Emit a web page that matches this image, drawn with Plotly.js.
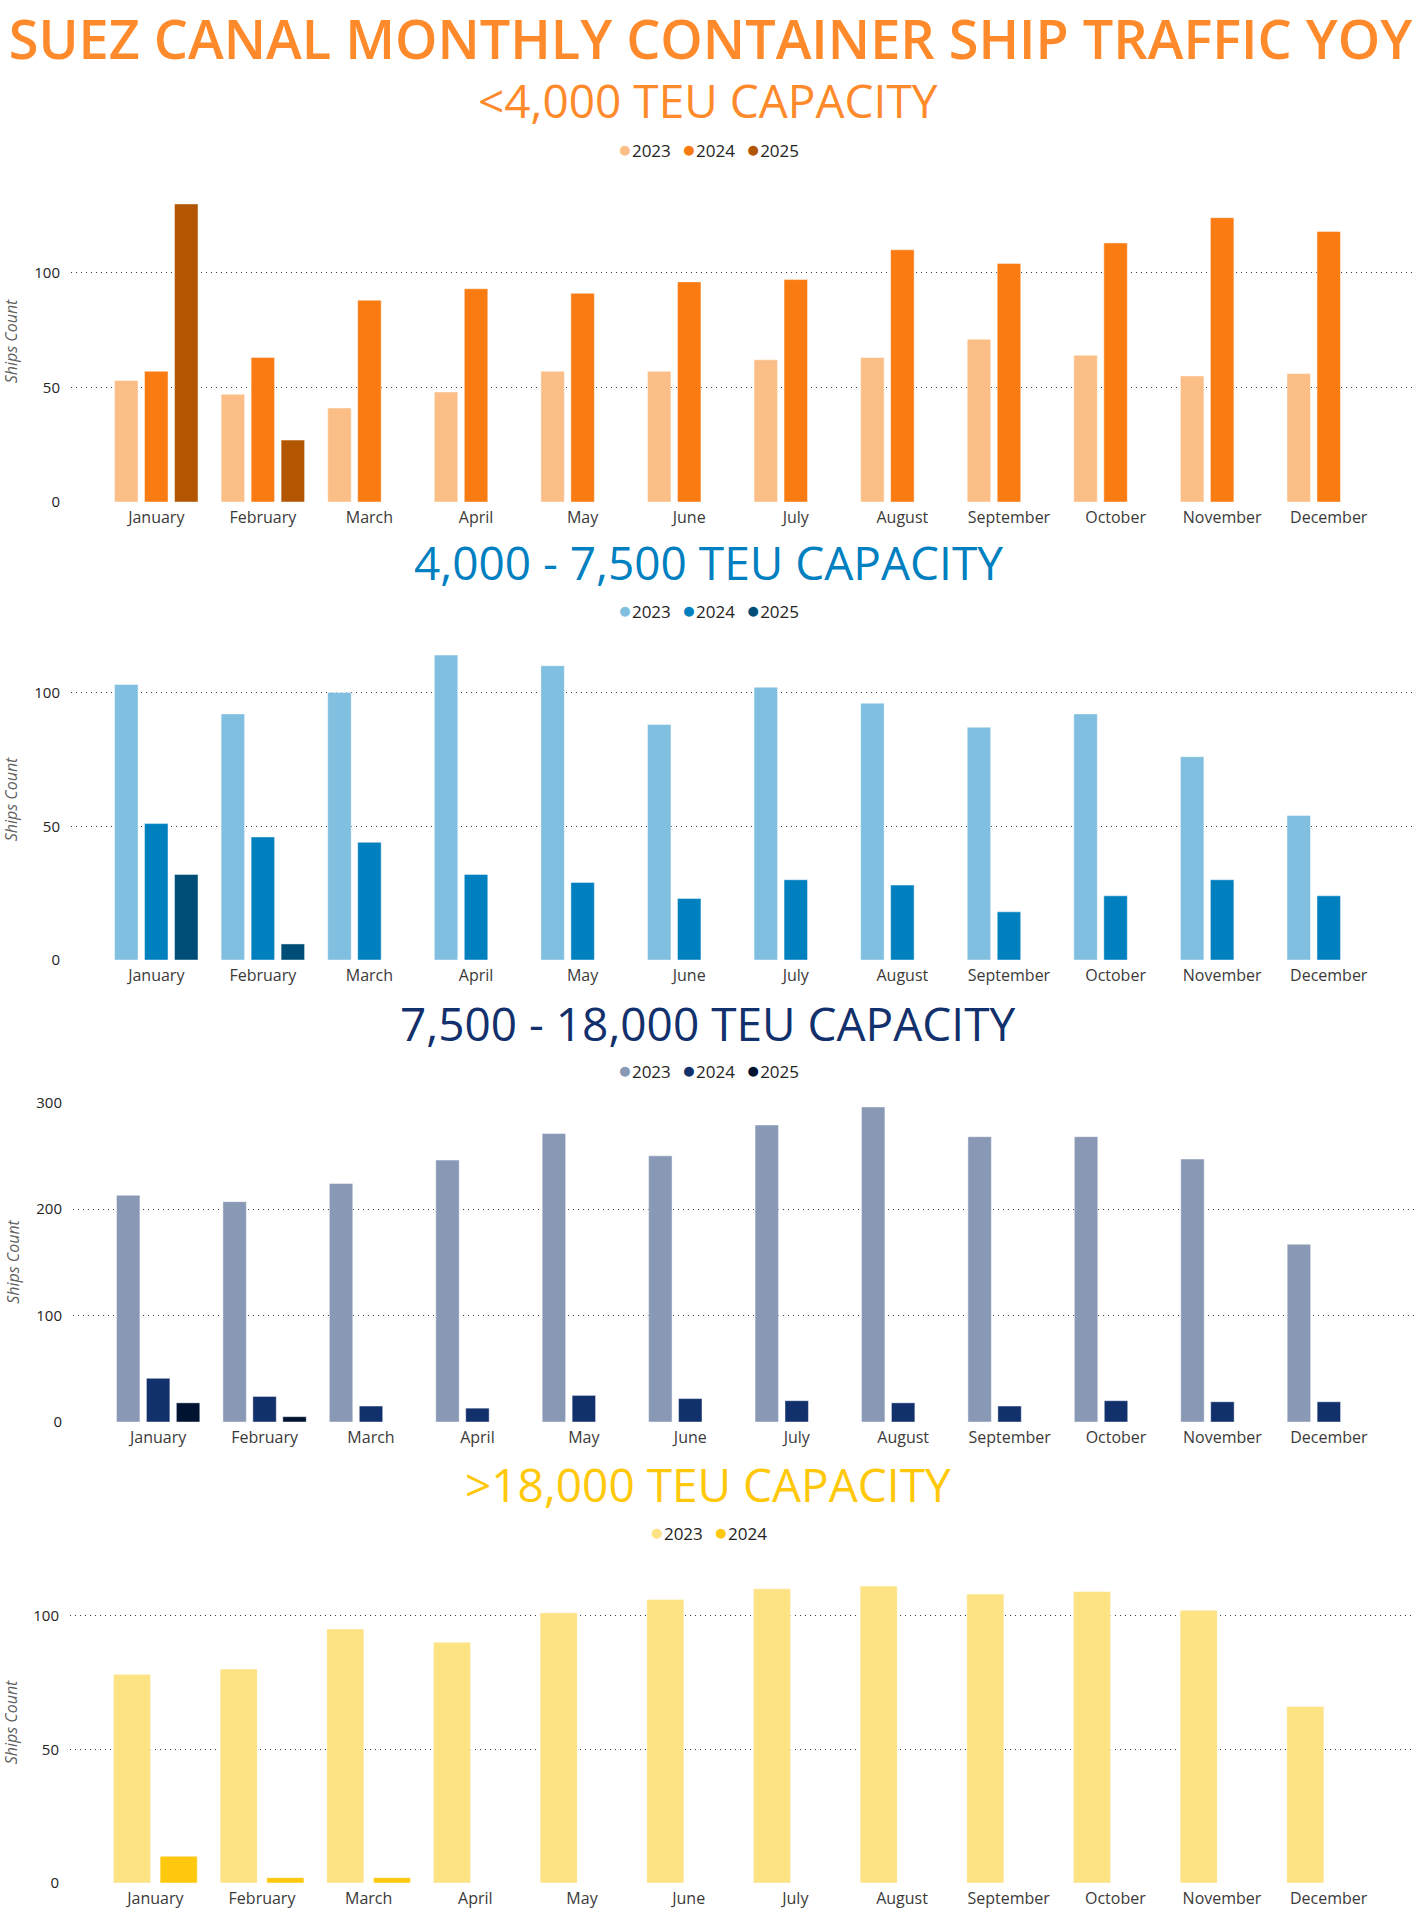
<!DOCTYPE html>
<html>
<head>
<meta charset="utf-8">
<script src="https://cdn.plot.ly/plotly-3.0.1.min.js"></script>
<style>
  html, body { margin: 0; padding: 0; background: #ffffff; }
  .panel { width: 1421px; position: absolute; left: 0; }
</style>
</head>
<body>
<div id="p1" class="panel" style="top:0px;height:540px"></div>
<div id="p2" class="panel" style="top:520px;height:480px"></div>
<div id="p3" class="panel" style="top:980px;height:480px"></div>
<div id="p4" class="panel" style="top:1440px;height:480px"></div>
<script>
// ---------- DATA ----------
const months = ['January','February','March','April','May','June','July','August','September','October','November','December'];

const mainTitle = 'SUEZ CANAL MONTHLY CONTAINER SHIP TRAFFIC YOY';
const yTitle = 'Ships Count';

// <4,000 TEU
const smallTitle = '<4,000 TEU CAPACITY';
const smallYears = ['2023','2024','2025'];
const small2023 = [53, 47, 41, 48, 57, 57, 62, 63, 71, 64, 55, 56];
const small2024 = [57, 63, 88, 93, 91, 96, 97, 110, 104, 113, 124, 118];
const small2025 = [130, 27, null, null, null, null, null, null, null, null, null, null];

// 4,000 - 7,500 TEU
const midTitle = '4,000 - 7,500 TEU CAPACITY';
const midYears = ['2023','2024','2025'];
const mid2023 = [103, 92, 100, 114, 110, 88, 102, 96, 87, 92, 76, 54];
const mid2024 = [51, 46, 44, 32, 29, 23, 30, 28, 18, 24, 30, 24];
const mid2025 = [32, 6, null, null, null, null, null, null, null, null, null, null];

// 7,500 - 18,000 TEU
const largeTitle = '7,500 - 18,000 TEU CAPACITY';
const largeYears = ['2023','2024','2025'];
const large2023 = [213, 207, 224, 246, 271, 250, 279, 296, 268, 268, 247, 167];
const large2024 = [41, 24, 15, 13, 25, 22, 20, 18, 15, 20, 19, 19];
const large2025 = [18, 5, null, null, null, null, null, null, null, null, null, null];

// >18,000 TEU
const ulcvTitle = '>18,000 TEU CAPACITY';
const ulcvYears = ['2023','2024'];
const ulcv2023 = [78, 80, 95, 90, 101, 106, 110, 111, 108, 109, 102, 66];
const ulcv2024 = [10, 2, 2, null, null, null, null, null, null, null, null, null];

// ---------- STYLE ----------
const FONT = '"Open Sans", "Noto Sans", sans-serif';
const CENTER_X = 708;   // page pixel centre of headings / legends
const PLOT_RIGHT = 1414;

function legendText(names, colors) {
  return names.map((n, i) =>
    '<span style="color:' + colors[i] + ';font-size:23px">\u25CF</span>' + n
  ).join('\u2002\u2009');
}

function makePanel(o) {
  const H = o.height;
  const top = o.plotTop, bottom = o.plotBottom;
  const paperY = py => (bottom - py) / (bottom - top);
  const cx = (CENTER_X - o.left) / (PLOT_RIGHT - o.left);
  const traces = o.series.map((vals, i) => ({
    type: 'bar',
    name: o.names[i],
    x: months,
    y: vals,
    marker: { color: o.colors[i], line: { color: 'rgba(255,255,255,0.45)', width: 1 } },
    showlegend: false,
    hoverinfo: 'skip'
  }));
  const annotations = [
    {
      text: o.subtitle, xref: 'paper', yref: 'paper', x: cx, y: paperY(o.subY),
      xanchor: 'center', yanchor: 'middle', showarrow: false,
      font: { family: FONT, size: 46, color: o.subColor, weight: 400 }
    },
    {
      text: legendText(o.names, o.colors), xref: 'paper', yref: 'paper', x: cx, y: paperY(o.legY),
      xanchor: 'center', yanchor: 'middle', showarrow: false,
      font: { family: FONT, size: 17, color: '#252423' }
    }
  ];
  const layout = {
    width: 1421, height: H,
    paper_bgcolor: 'rgba(0,0,0,0)', plot_bgcolor: 'rgba(0,0,0,0)',
    margin: { l: o.left, r: 1421 - PLOT_RIGHT, t: top, b: H - bottom, pad: 0 },
    barmode: 'group',
    bargap: o.bargap,
    bargroupgap: o.bargroupgap,
    showlegend: false,
    xaxis: {
      type: 'category',
      range: [-0.8, 11.8],
      showgrid: false, zeroline: false, showline: false,
      ticks: '', ticklabelstandoff: 4,
      tickfont: { family: FONT, size: 16, color: '#3b3a39' }
    },
    yaxis: {
      range: o.yrange,
      tickvals: o.ytick,
      showgrid: true, griddash: '1px,4px', gridcolor: '#3a3a3a', gridwidth: 1,
      zeroline: false, showline: false, ticks: '', ticklabelstandoff: 10,
      tickfont: { family: FONT, size: 15, color: '#252423' },
      title: { text: yTitle, standoff: 12, font: { family: FONT, size: 16, color: '#5f5f5f', style: 'italic' } }
    },
    annotations: annotations
  };
  if (o.mainTitle) {
    layout.title = {
      text: o.mainTitle, x: 0.5, xanchor: 'center', xref: 'container',
      y: 1 - o.mainY / H, yanchor: 'middle', yref: 'container',
      font: { family: FONT, size: 54, color: '#FF8A2B', weight: 600 }
    };
  }
  Plotly.newPlot(o.id, traces, layout, { staticPlot: true, displayModeBar: false });
}

makePanel({
  id: 'p1', height: 540, plotTop: 180.9, plotBottom: 502.3, left: 71,
  yrange: [0, 140], ytick: [0, 50, 100],
  series: [small2023, small2024, small2025], names: smallYears,
  colors: ['#FBBE87', '#F97B11', '#B35602'],
  subtitle: smallTitle, subColor: '#FF8A2B', subY: 100, legY: 148,
  bargap: 0.156, bargroupgap: 0.217, mainTitle: mainTitle, mainY: 40
});
makePanel({
  id: 'p2', height: 480, plotTop: 119.2, plotBottom: 440, left: 71,
  yrange: [0, 120], ytick: [0, 50, 100],
  series: [mid2023, mid2024, mid2025], names: midYears,
  colors: ['#80BFDF', '#0080BF', '#004E78'],
  subtitle: midTitle, subColor: '#0080C0', subY: 42, legY: 89,
  bargap: 0.156, bargroupgap: 0.217
});
makePanel({
  id: 'p3', height: 480, plotTop: 121.6, plotBottom: 442.3, left: 73,
  yrange: [0, 300.6], ytick: [0, 100, 200, 300],
  series: [large2023, large2024, large2025], names: largeYears,
  colors: ['#8898B5', '#12306B', '#001432'],
  subtitle: largeTitle, subColor: '#12306B', subY: 42, legY: 89,
  bargap: 0.156, bargroupgap: 0.217
});
makePanel({
  id: 'p4', height: 480, plotTop: 121.7, plotBottom: 443.3, left: 70,
  yrange: [0, 120], ytick: [0, 50, 100],
  series: [ulcv2023, ulcv2024], names: ulcvYears,
  colors: ['#FDE384', '#FDC80D'],
  subtitle: ulcvTitle, subColor: '#FFC80A', subY: 43.5, legY: 90.5,
  bargap: 0.125, bargroupgap: 0.205
});
</script>
</body>
</html>
